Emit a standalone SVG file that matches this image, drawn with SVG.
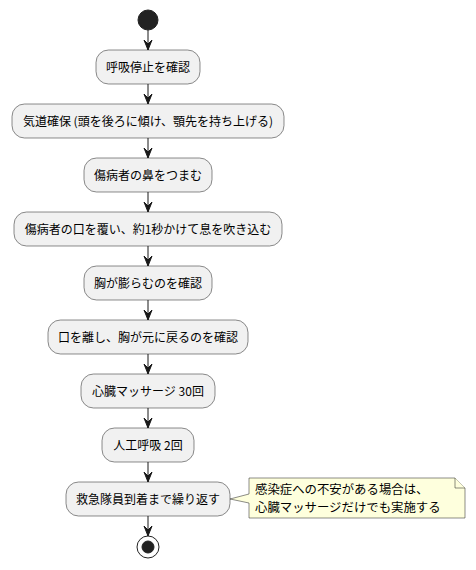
<svg xmlns="http://www.w3.org/2000/svg" width="476" height="570" viewBox="0 0 476 570">
  <style>
    .act rect { fill: #F1F1F1; stroke: #181818; stroke-width: 0.5; }
    .act text, .note text { font-family: "Noto Sans CJK JP", "Liberation Sans", sans-serif; fill: #000000; }
    .act text { font-size: 12px; text-anchor: middle; }
    .note text { font-size: 12.4px; }
    .note path { fill: #FEFFDD; stroke: #181818; stroke-width: 0.5; }
    .flow line { stroke: #181818; stroke-width: 1; }
    .flow polygon { fill: #181818; stroke: #181818; stroke-width: 1; }
  </style>
  <rect width="476" height="570" fill="#FFFFFF"/>

  <!-- start / end -->
  <g id="start">
    <circle cx="148" cy="20" r="10" fill="#222222" stroke="#222222"/>
  </g>

  <g id="a1" class="act">
    <rect x="96" y="50" width="104" height="34" rx="12.5"/>
    <text x="148" y="72">呼吸停止を確認</text>
  </g>
  <g id="a2" class="act">
    <rect x="12" y="104" width="272" height="34" rx="12.5"/>
    <text x="148" y="126">気道確保 (頭を後ろに傾け、顎先を持ち上げる)</text>
  </g>
  <g id="a3" class="act">
    <rect x="84" y="158" width="128" height="34" rx="12.5"/>
    <text x="148" y="180">傷病者の鼻をつまむ</text>
  </g>
  <g id="a4" class="act">
    <rect x="14" y="212" width="268" height="34" rx="12.5"/>
    <text x="148" y="234">傷病者の口を覆い、約1秒かけて息を吹き込む</text>
  </g>
  <g id="a5" class="act">
    <rect x="84" y="266" width="128" height="34" rx="12.5"/>
    <text x="148" y="288">胸が膨らむのを確認</text>
  </g>
  <g id="a6" class="act">
    <rect x="48" y="320" width="200" height="34" rx="12.5"/>
    <text x="148" y="342">口を離し、胸が元に戻るのを確認</text>
  </g>
  <g id="a7" class="act">
    <rect x="81" y="374" width="134" height="34" rx="12.5"/>
    <text x="148" y="396">心臓マッサージ 30回</text>
  </g>
  <g id="a8" class="act">
    <rect x="102" y="428" width="92" height="34" rx="12.5"/>
    <text x="148" y="450">人工呼吸 2回</text>
  </g>
  <g id="a9" class="act">
    <rect x="66" y="482" width="164" height="34" rx="12.5"/>
    <text x="148" y="504">救急隊員到着まで繰り返す</text>
  </g>

  <g id="stop">
    <circle cx="148" cy="547" r="11" fill="none" stroke="#222222" stroke-width="1"/>
    <circle cx="148" cy="547" r="6" fill="#222222" stroke="#222222"/>
  </g>

  <!-- note attached to the last action -->
  <g id="note1" class="note">
    <path d="M249,478 L249,494 L230,499 L249,503 L249,518 L465,518 L465,488 L455,478 Z"/>
    <path d="M455,478 L455,488 L465,488" fill="none"/>
    <text x="255" y="494">感染症への不安がある場合は、</text>
    <text x="255" y="512">心臓マッサージだけでも実施する</text>
  </g>

  <!-- connectors -->
  <g id="connectors" class="flow">
    <line x1="148" y1="30" x2="148" y2="50"/>
    <polygon points="144,40 148,50 152,40 148,44"/>
    <line x1="148" y1="84" x2="148" y2="104"/>
    <polygon points="144,94 148,104 152,94 148,98"/>
    <line x1="148" y1="138" x2="148" y2="158"/>
    <polygon points="144,148 148,158 152,148 148,152"/>
    <line x1="148" y1="192" x2="148" y2="212"/>
    <polygon points="144,202 148,212 152,202 148,206"/>
    <line x1="148" y1="246" x2="148" y2="266"/>
    <polygon points="144,256 148,266 152,256 148,260"/>
    <line x1="148" y1="300" x2="148" y2="320"/>
    <polygon points="144,310 148,320 152,310 148,314"/>
    <line x1="148" y1="354" x2="148" y2="374"/>
    <polygon points="144,364 148,374 152,364 148,368"/>
    <line x1="148" y1="408" x2="148" y2="428"/>
    <polygon points="144,418 148,428 152,418 148,422"/>
    <line x1="148" y1="462" x2="148" y2="482"/>
    <polygon points="144,472 148,482 152,472 148,476"/>
    <line x1="148" y1="516" x2="148" y2="536"/>
    <polygon points="144,526 148,536 152,526 148,530"/>
  </g>
</svg>
